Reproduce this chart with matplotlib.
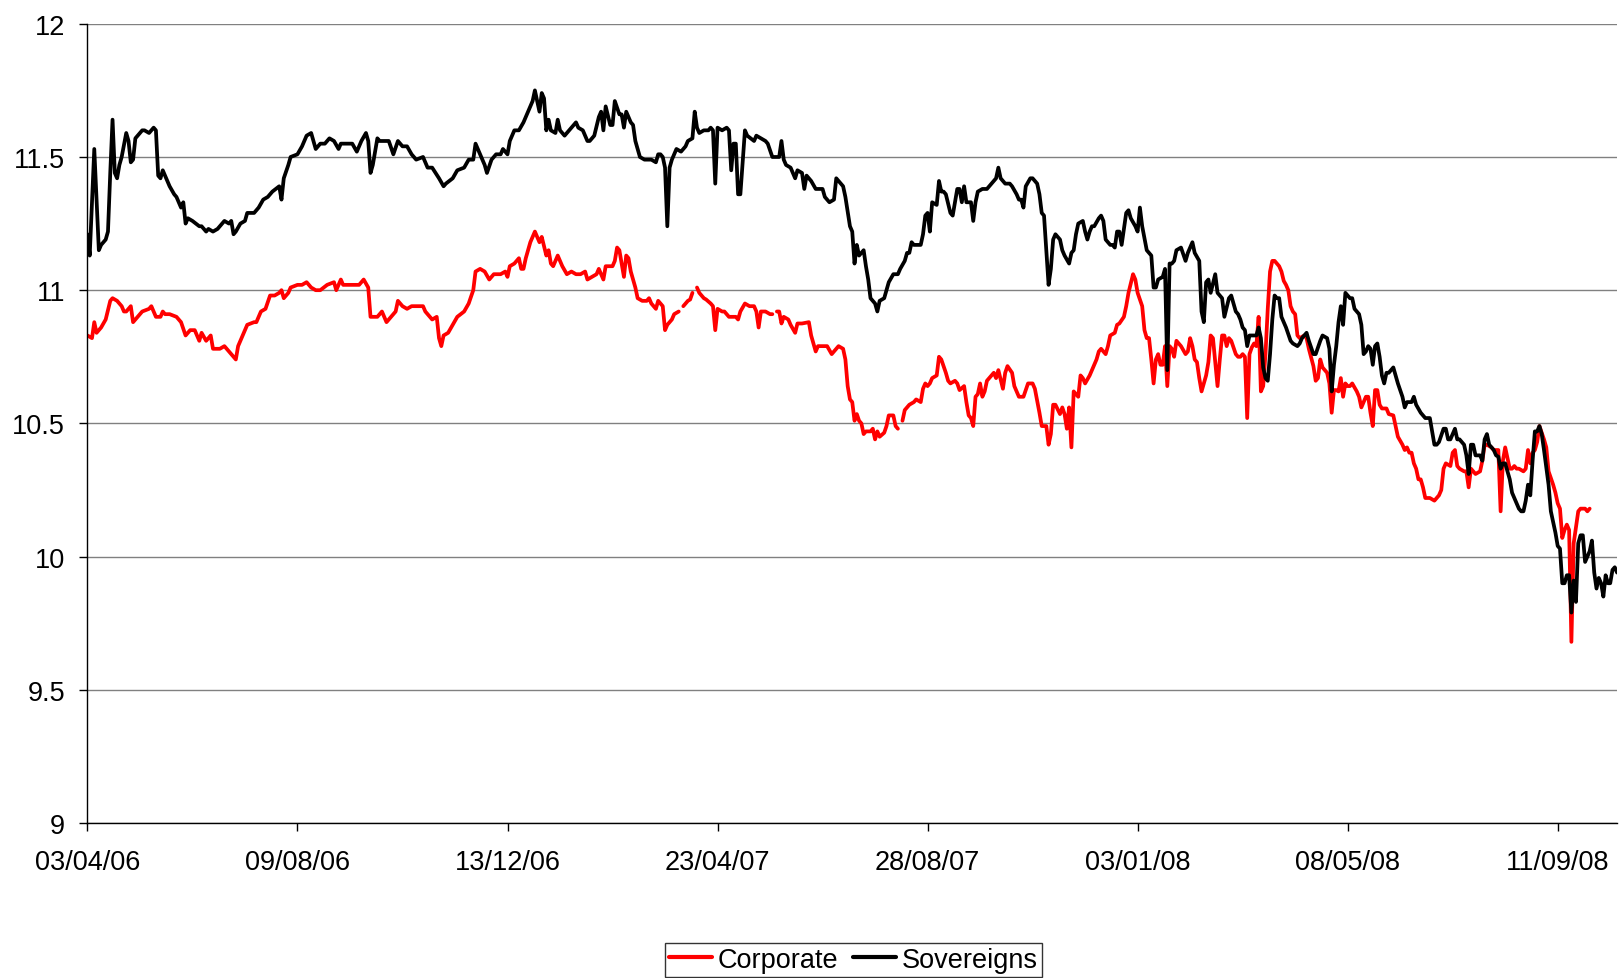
import numpy as np
import matplotlib
matplotlib.use("Agg")
import matplotlib.pyplot as plt

nan = np.nan

# (trading-day index, value) pairs
corporate_points = [
    (0,10.83),(2,10.82),(3,10.88),(4,10.84),(6,10.86),(8,10.89),(10,10.96),(11,10.97),(13,10.96),(15,10.94),
    (16,10.92),(17,10.92),(19,10.94),(20,10.88),(21,10.89),(23,10.91),(24,10.92),(27,10.93),(28,10.94),(30,10.90),
    (32,10.90),(33,10.92),(34,10.91),(36,10.91),(39,10.90),(41,10.88),(43,10.83),(45,10.85),(47,10.85),(49,10.81),
    (50,10.84),(52,10.81),(54,10.83),(55,10.78),(58,10.78),(60,10.79),(62,10.77),(65,10.74),(66,10.79),(68,10.83),
    (70,10.87),(73,10.88),(74,10.88),(76,10.92),(78,10.93),(80,10.98),(82,10.98),(84,10.99),
    (85,11.00),(86,10.97),(88,10.99),(89,11.01),(92,11.02),(94,11.02),(96,11.03),(98,11.01),(100,11.00),(102,11.00),
    (105,11.02),(108,11.03),(109,11.00),(111,11.04),(112,11.02),(115,11.02),(117,11.02),(119,11.02),(121,11.04),
    (123,11.01),(124,10.90),(126,10.90),(127,10.90),(129,10.92),(131,10.88),(133,10.90),(135,10.92),(136,10.96),
    (138,10.94),(140,10.93),(142,10.94),(144,10.94),(147,10.94),(148,10.92),(150,10.90),(151,10.89),(153,10.90),
    (154,10.82),(155,10.79),(156,10.83),(158,10.84),(160,10.87),(162,10.90),
    (165,10.92),(167,10.95),(169,11.00),(170,11.07),(172,11.08),(174,11.07),(176,11.04),(178,11.06),(181,11.06),
    (183,11.07),(184,11.05),(185,11.09),(187,11.10),(189,11.12),(190,11.08),(191,11.08),(192,11.12),(194,11.18),
    (196,11.22),(198,11.18),(199,11.20),(201,11.13),(202,11.15),(203,11.10),(204,11.09),(206,11.13),(208,11.09),
    (210,11.06),(212,11.07),(214,11.06),(216,11.06),(218,11.07),(219,11.04),(221,11.05),(223,11.06),(224,11.08),
    (226,11.04),(227,11.09),(230,11.09),(231,11.11),(232,11.16),(233,11.15),(235,11.05),(236,11.13),(237,11.12),
    (238,11.07),(240,11.01),(241,10.97),(243,10.96),(245,10.96),(246,10.97),(247,10.95),(249,10.93),(250,10.96),
    (252,10.94),(253,10.85),(254,10.87),(256,10.89),(257,10.91),(259,10.92),(260,nan),(261,10.94),(263,10.96),
    (264,10.965),(265,10.99),(266,nan),(267,11.01),(268,10.99),(270,10.97),(271,10.965),(273,10.95),(274,10.94),
    (275,10.85),(276,10.93),(278,10.92),(279,10.92),(281,10.90),(284,10.90),(285,10.89),(286,10.92),(288,10.95),
    (290,10.94),(292,10.94),(293,10.92),(294,10.86),(295,10.92),(297,10.92),(299,10.91),(300,10.91),(301,nan),
    (302,10.92),(303,10.92),(304,10.875),(305,10.90),(307,10.89),(308,10.87),(310,10.84),(311,10.875),(313,10.875),
    (316,10.88),(317,10.83),(319,10.77),(320,10.79),(322,10.79),(324,10.79),(326,10.76),(327,10.77),(329,10.79),
    (331,10.78),(332,10.74),(333,10.64),
    (334,10.59),(335,10.58),(336,10.51),(337,10.535),(338,10.51),(339,10.50),(340,10.46),(341,10.47),(343,10.47),
    (344,10.48),(345,10.44),(346,10.47),(347,10.45),(349,10.465),(350,10.49),(351,10.53),(353,10.53),(354,10.49),
    (355,10.48),(356,nan),(357,10.51),(358,10.55),(359,10.56),(360,10.57),(362,10.58),(363,10.59),(365,10.58),
    (366,10.63),(367,10.65),(368,10.64),(369,10.65),(370,10.67),(372,10.68),(373,10.75),(374,10.74),(376,10.69),
    (377,10.66),(378,10.65),(380,10.66),(381,10.65),(382,10.625),(384,10.64),(385,10.58),(386,10.53),(387,10.52),
    (388,10.49),(389,10.60),(390,10.61),(391,10.65),(392,10.60),(393,10.62),(394,10.66),(396,10.68),(397,10.69),
    (398,10.67),(399,10.70),(401,10.63),(402,10.69),(403,10.715),(405,10.69),(406,10.64),(408,10.60),(409,10.60),
    (410,10.60),(412,10.65),(414,10.65),(415,10.63),(417,10.54),
    (418,10.49),(419,10.49),(420,10.49),(421,10.42),(422,10.46),(423,10.57),(424,10.57),(426,10.535),(427,10.56),
    (428,10.535),(429,10.48),(430,10.56),(431,10.41),(432,10.62),(434,10.60),(435,10.68),(436,10.67),(437,10.65),
    (439,10.68),(440,10.70),(442,10.74),(443,10.77),(444,10.78),(446,10.76),(447,10.79),(448,10.83),(450,10.84),
    (451,10.87),(452,10.875),(454,10.90),(455,10.94),(456,10.99),(458,11.06),(459,11.04),(460,10.99),(462,10.94),
    (463,10.85),(464,10.82),(465,10.82),(466,10.74),(467,10.65),(468,10.74),(469,10.76),(470,10.72),(471,10.72),
    (472,10.79),(473,10.64),(474,10.79),(475,10.78),(476,10.75),(477,10.81),(479,10.79),(481,10.76),(482,10.77),
    (483,10.82),(484,10.79),(485,10.74),(486,10.73),(487,10.67),(488,10.62),(490,10.68),(491,10.73),(492,10.83),
    (493,10.82),(495,10.64),(496,10.74),(497,10.83),(498,10.83),(499,10.79),(500,10.82),
    (501,10.81),(503,10.76),(504,10.75),(505,10.75),(506,10.76),(507,10.75),(508,10.52),(509,10.76),(510,10.785),
    (511,10.80),(512,10.79),(513,10.90),(514,10.62),(515,10.64),(516,10.76),(517,10.93),(518,11.07),(519,11.11),
    (520,11.11),(522,11.09),(523,11.07),(524,11.035),(525,11.02),(526,11.00),(527,10.94),(528,10.92),(529,10.91),
    (530,10.83),(531,10.82),(533,10.83),(534,10.82),(535,10.78),(537,10.715),(538,10.66),(539,10.67),(540,10.74),
    (541,10.71),(543,10.69),(544,10.65),(545,10.54),(546,10.625),(547,10.625),(548,10.62),(549,10.67),(550,10.60),
    (551,10.65),(552,10.64),(553,10.64),(554,10.65),(556,10.62),(557,10.60),(558,10.56),(560,10.60),(561,10.60),
    (562,10.54),(563,10.49),(564,10.625),(565,10.625),(566,10.57),(567,10.556),(569,10.556),(570,10.535),(572,10.53),
    (573,10.49),(574,10.45),(576,10.42),(577,10.40),(578,10.41),(579,10.39),(580,10.39),(581,10.35),(582,10.33),
    (583,10.29),
    (584,10.29),(585,10.26),(586,10.22),(588,10.22),(589,10.215),(590,10.21),(592,10.23),(593,10.25),(594,10.33),
    (595,10.35),(597,10.34),(598,10.39),(599,10.40),(600,10.34),(601,10.33),(603,10.32),(604,10.32),(605,10.26),
    (606,10.33),(607,10.32),(608,10.31),(610,10.32),(611,10.36),(612,10.42),(613,10.42),(615,10.41),(616,10.40),
    (617,10.40),(618,10.40),(619,10.17),(620,10.36),(621,10.41),(623,10.33),(624,10.33),(625,10.34),(626,10.33),
    (627,10.33),(629,10.32),(630,10.33),(631,10.40),(632,10.35),(633,10.39),(634,10.40),(635,10.43),(636,10.49),
    (637,10.465),(638,10.44),(639,10.41),(640,10.32),(642,10.27),(643,10.24),(644,10.20),(645,10.18),(646,10.07),
    (647,10.10),(648,10.12),(649,10.10),(650,9.68),(651,10.05),(652,10.11),(653,10.17),(654,10.18),(655,10.18),
    (656,10.18),(657,10.17),(658,10.18),
]

sovereign_points = [
    (0,11.21),(1,11.13),(3,11.53),(5,11.15),(6,11.17),(8,11.19),(9,11.22),(10,11.44),(11,11.64),(12,11.44),
    (13,11.42),(14,11.47),(15,11.50),(17,11.59),(18,11.56),(19,11.48),(20,11.49),(21,11.57),(22,11.58),(24,11.60),
    (25,11.60),(27,11.59),(29,11.61),(30,11.60),(31,11.43),(32,11.42),(33,11.45),(34,11.43),(36,11.39),(38,11.36),
    (39,11.35),(40,11.33),(41,11.31),(42,11.33),(43,11.25),(44,11.27),(46,11.26),(49,11.24),(50,11.24),(52,11.22),
    (53,11.23),(55,11.22),(57,11.23),(58,11.24),(60,11.26),(62,11.25),(63,11.26),(64,11.21),(65,11.22),(67,11.25),
    (69,11.26),(70,11.29),(73,11.29),(75,11.31),(77,11.34),(79,11.35),(81,11.37),(84,11.39),
    (85,11.34),(86,11.42),(88,11.47),(89,11.50),(92,11.51),(94,11.54),(96,11.58),(98,11.59),(100,11.53),(102,11.55),
    (104,11.55),(106,11.57),(108,11.56),(110,11.53),(111,11.55),(114,11.55),(116,11.55),(118,11.52),(120,11.56),
    (122,11.59),(123,11.56),(124,11.44),(125,11.47),(127,11.57),(128,11.56),(130,11.56),(132,11.56),(134,11.51),
    (136,11.56),(138,11.54),(140,11.54),(142,11.51),(144,11.49),(147,11.50),(149,11.46),(151,11.46),(154,11.42),
    (156,11.39),(157,11.40),(160,11.42),(162,11.45),(165,11.46),(167,11.49),
    (169,11.49),(170,11.55),(171,11.53),(173,11.49),(174,11.47),(175,11.44),(177,11.49),(179,11.51),(181,11.51),
    (182,11.53),(184,11.51),(185,11.56),(187,11.60),(189,11.60),(191,11.63),(193,11.67),(195,11.71),(196,11.75),
    (198,11.67),(199,11.74),(200,11.72),(201,11.60),(202,11.64),(203,11.60),(205,11.59),(206,11.64),(207,11.60),
    (209,11.58),(211,11.60),(214,11.63),(215,11.61),(217,11.60),(219,11.56),(220,11.56),(222,11.58),(224,11.65),
    (225,11.67),(226,11.60),(227,11.69),(229,11.62),(230,11.62),(231,11.71),(233,11.66),(234,11.66),(235,11.61),
    (236,11.67),(238,11.63),(239,11.62),(240,11.56),(242,11.50),(244,11.49),(247,11.49),(249,11.48),(250,11.51),
    (251,11.51),(252,11.50),(253,11.46),(254,11.24),(255,11.46),(256,11.49),(258,11.53),(260,11.52),(262,11.54),
    (263,11.56),(265,11.57),(266,11.67),(267,11.61),(268,11.59),(270,11.60),(272,11.60),(273,11.61),(274,11.60),
    (275,11.40),(276,11.61),(278,11.60),(280,11.61),(281,11.60),(282,11.45),(283,11.55),(284,11.55),(285,11.36),
    (286,11.36),(288,11.60),(289,11.58),(292,11.56),(293,11.58),(295,11.57),(297,11.56),(298,11.55),(300,11.50),
    (302,11.50),(303,11.50),(304,11.56),(305,11.49),(306,11.47),(308,11.46),(310,11.42),(311,11.45),(313,11.44),
    (314,11.38),(315,11.43),(317,11.41),(319,11.38),(320,11.38),(322,11.38),(323,11.35),(325,11.33),(327,11.34),
    (328,11.42),(330,11.40),(331,11.39),(332,11.35),(334,11.24),
    (335,11.22),(336,11.10),(337,11.17),(338,11.13),(340,11.15),(341,11.09),(342,11.04),(343,10.97),(345,10.95),
    (346,10.92),(347,10.96),(349,10.97),(350,11.00),(351,11.03),(353,11.06),(355,11.06),(356,11.08),(358,11.11),
    (359,11.14),(360,11.14),(361,11.18),(362,11.17),(365,11.17),(366,11.21),(367,11.28),(368,11.29),(369,11.22),
    (370,11.33),(372,11.32),(373,11.41),(374,11.37),(375,11.37),(376,11.36),(378,11.29),(379,11.28),(381,11.38),
    (382,11.38),(383,11.33),(384,11.39),(385,11.33),(386,11.33),(387,11.33),(388,11.26),(389,11.33),(390,11.37),
    (392,11.38),(394,11.38),(396,11.40),(398,11.42),(399,11.46),(400,11.42),(402,11.40),(404,11.40),(405,11.39),
    (407,11.36),(408,11.34),(409,11.34),(410,11.31),(411,11.39),(413,11.42),(414,11.42),(416,11.40),(417,11.36),
    (418,11.29),(419,11.28),(420,11.15),(421,11.02),(422,11.08),(423,11.19),(424,11.21),(426,11.19),(427,11.15),
    (428,11.13),(430,11.10),(431,11.14),(432,11.15),(433,11.21),(434,11.25),(436,11.26),(437,11.22),(438,11.19),
    (439,11.22),(440,11.24),(441,11.24),(443,11.27),(444,11.28),(445,11.26),(446,11.19),(448,11.17),(449,11.17),
    (450,11.16),(451,11.22),(452,11.22),(453,11.17),(455,11.29),(456,11.30),(457,11.27),(459,11.24),(460,11.22),
    (461,11.31),(462,11.24),(464,11.15),(465,11.14),(466,11.13),(467,11.01),(468,11.01),(469,11.04),(471,11.05),
    (472,11.08),(473,10.70),(474,11.10),(475,11.10),(476,11.11),(477,11.15),(479,11.16),(481,11.11),(482,11.14),
    (484,11.18),(485,11.14),(487,11.11),(488,10.92),(489,10.88),(490,11.03),(491,11.04),(492,10.99),(494,11.06),
    (495,10.99),(497,10.97),(498,10.90),(500,10.97),
    (501,10.98),(503,10.92),(504,10.91),(505,10.89),(506,10.86),(507,10.85),(508,10.79),(509,10.83),(510,10.83),
    (511,10.83),(512,10.83),(513,10.86),(514,10.82),(515,10.71),(516,10.67),(517,10.66),(518,10.76),(519,10.89),
    (520,10.98),(521,10.97),(522,10.97),(523,10.90),(525,10.86),(527,10.81),(528,10.80),(530,10.79),(531,10.80),
    (532,10.82),(534,10.84),(535,10.81),(537,10.76),(538,10.76),(540,10.81),(541,10.83),(543,10.82),(544,10.78),
    (545,10.62),(546,10.72),(547,10.79),(548,10.88),(549,10.94),(550,10.87),(551,10.99),(553,10.97),(554,10.97),
    (555,10.93),(557,10.91),(558,10.87),(559,10.76),(560,10.77),(561,10.79),(562,10.78),(563,10.72),(564,10.79),
    (565,10.80),(566,10.75),(567,10.68),(568,10.65),(569,10.69),(570,10.69),(572,10.71),(573,10.68),(574,10.65),
    (576,10.60),(577,10.56),(578,10.58),(580,10.58),(581,10.60),(582,10.57),(584,10.54),
    (585,10.53),(586,10.52),(588,10.52),(589,10.47),(590,10.42),(591,10.42),(592,10.43),(594,10.48),(595,10.48),
    (596,10.44),(597,10.44),(599,10.48),(600,10.44),(601,10.44),(603,10.42),(604,10.38),(605,10.31),(606,10.42),
    (607,10.42),(608,10.38),(610,10.38),(611,10.36),(612,10.44),(613,10.46),(614,10.42),(615,10.41),(616,10.40),
    (617,10.38),(618,10.375),(619,10.33),(620,10.35),(621,10.35),(623,10.29),(624,10.24),(625,10.22),(627,10.18),
    (628,10.17),(629,10.17),(630,10.21),(631,10.27),(632,10.23),(633,10.36),(634,10.47),(635,10.47),(636,10.49),
    (637,10.46),(638,10.40),(640,10.27),(641,10.17),(643,10.09),(644,10.04),(645,10.03),(646,9.90),(647,9.90),
    (648,9.93),(649,9.93),(650,9.79),(651,9.91),(652,9.83),(653,10.05),(654,10.08),(655,10.08),(656,9.98),
    (658,10.02),(659,10.06),(660,9.94),(661,9.88),(662,9.92),(663,9.90),(664,9.85),(665,9.93),(666,9.90),
    (667,9.90),(668,9.95),(669,9.96),(670,9.94),
]

tick_labels = ['03/04/06', '09/08/06', '13/12/06', '23/04/07', '28/08/07', '03/01/08', '08/05/08', '11/09/08']
tick_step = 92
n_days = 670

plt.rcParams['font.family'] = ['Liberation Sans', 'DejaVu Sans']

corp_x, corp_y = zip(*corporate_points)
sov_x, sov_y = zip(*sovereign_points)

fig = plt.figure(figsize=(16.19, 9.79), dpi=100)
ax = fig.add_axes([0.054, 0.1583, 0.9448, 0.8164])

ax.plot(corp_x, corp_y, color='#ff0000', lw=2.7, label='Corporate',
        solid_joinstyle='round', solid_capstyle='round')
ax.plot(sov_x, sov_y, color='#000000', lw=2.7, label='Sovereigns',
        solid_joinstyle='round', solid_capstyle='round')

ax.set_xlim(0, n_days)
ax.set_ylim(9, 12)
ax.set_yticks(np.arange(9, 12.01, 0.5))
ax.set_yticklabels(['9', '9.5', '10', '10.5', '11', '11.5', '12'])
ax.set_xticks([i * tick_step for i in range(len(tick_labels))])
ax.set_xticklabels(tick_labels)

ax.grid(axis='y', color='#808080', lw=1.0)
ax.set_axisbelow(True)
for s in ['top', 'right']:
    ax.spines[s].set_visible(False)
for s in ['left', 'bottom']:
    ax.spines[s].set_color('black')
    ax.spines[s].set_linewidth(1.0)

ax.tick_params(axis='y', length=6, width=1, pad=10, labelsize=19.5, direction='out')
ax.tick_params(axis='x', length=6, width=1, pad=13, labelsize=19.5, direction='out')

leg = fig.legend(loc='lower center', bbox_to_anchor=(0.527, 0.001), ncol=2, fontsize=19.5,
                 frameon=True, fancybox=False, edgecolor='black', handlelength=1.6,
                 handletextpad=0.2, columnspacing=0.55, borderpad=0.15, borderaxespad=0.0)
leg.get_frame().set_linewidth(1.0)
for line in leg.get_lines():
    line.set_linewidth(3.0)

fig.savefig('out.png', dpi=100)
